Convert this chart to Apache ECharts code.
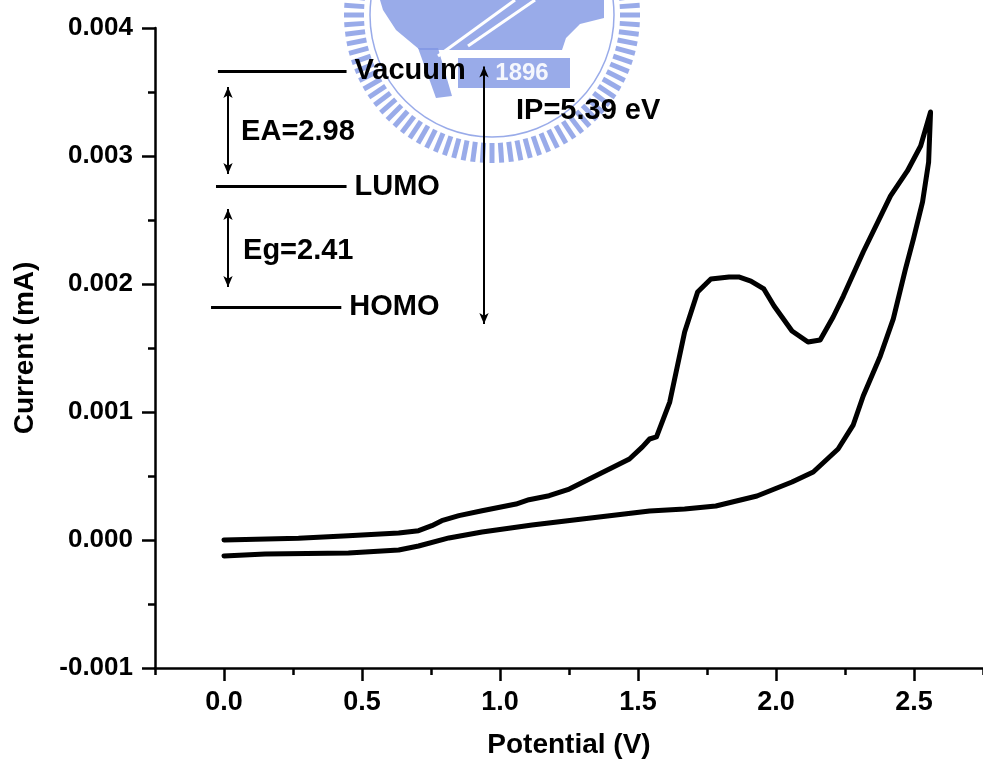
<!DOCTYPE html>
<html>
<head>
<meta charset="utf-8">
<title>Cyclic voltammogram</title>
<script src="https://cdn.jsdelivr.net/npm/echarts@6/dist/echarts.min.js"></script>
<style>
  html, body { margin: 0; padding: 0; background: #fff; }
  #chart { width: 983px; height: 770px; }
</style>
</head>
<body>
<div id="chart"></div>
<script>
// Anodic (forward) sweep: potential in V, current in mA
var forwardPotential = [0.000, 0.270, 0.450, 0.633, 0.705, 0.753, 0.789, 0.851, 0.935, 1.058, 1.105, 1.178, 1.251, 1.360, 1.469, 1.516, 1.542,
  1.567, 1.615, 1.669, 1.716, 1.764, 1.830, 1.865, 1.909, 1.956, 1.993, 2.058, 2.116, 2.160, 2.207, 2.244, 2.316, 2.415, 2.476, 2.524, 2.560];
var forwardCurrent = [0.000000, 0.000013, 0.000034, 0.000055, 0.000073, 0.000112, 0.000151, 0.000190, 0.000229, 0.000281, 0.000315, 0.000346, 0.000398, 0.000516, 0.000633, 0.000727, 0.000789,
  0.000805, 0.001078, 0.001625, 0.001938, 0.002039, 0.002055, 0.002055, 0.002023, 0.001961, 0.001828, 0.001633, 0.001547, 0.001562, 0.001742, 0.001906, 0.002250, 0.002688, 0.002883, 0.003078, 0.003344];

// Cathodic (return) sweep
var reversePotential = [2.560, 2.553, 2.531, 2.498, 2.469, 2.425, 2.378, 2.316, 2.280, 2.225, 2.135, 2.058, 1.931, 1.782, 1.669, 1.542, 1.298, 1.116, 0.935, 0.815, 0.705, 0.633, 0.451, 0.149, 0.000];
var reverseCurrent = [0.003344, 0.002953, 0.002641, 0.002352, 0.002117, 0.001727, 0.001438, 0.001125, 0.000900, 0.000711, 0.000531, 0.000453, 0.000344, 0.000266, 0.000242, 0.000227, 0.000164, 0.000117, 0.000063, 0.000016, -0.000047, -0.000078, -0.000102, -0.000109, -0.000125];

// Axis ticks
var xMajorTicks = [0, 0.5, 1.0, 1.5, 2.0, 2.5];
var xMinorTicks = [-0.25, 0.25, 0.75, 1.25, 1.75, 2.25, 2.75];

// Energy-level sketch drawn inside the plot (data units)
var levelNames = ['Vacuum', 'LUMO', 'HOMO'];
var levelCurrent = [0.003664, 0.002760, 0.001820];
var levelStart = [-0.022, -0.029, -0.047];
var levelEnd = [0.444, 0.444, 0.425];

var gapLabels = ['EA=2.98', 'Eg=2.41', 'IP=5.39 eV'];
var gapArrowX = [0.0145, 0.0145, 0.942];
var gapArrowTop = [0.003540, 0.002586, 0.003700];
var gapArrowBottom = [0.002860, 0.001977, 0.001688];
var gapLabelX = [0.062, 0.069, 1.058];
var gapLabelY = [0.003188, 0.002258, 0.003352];

var FONT = '"Liberation Sans", Arial, sans-serif';

function pairs(xs, ys) {
  return xs.map(function (x, i) { return [x, ys[i]]; });
}

var cvData = pairs(forwardPotential, forwardCurrent).concat(pairs(reversePotential, reverseCurrent));

var markLines = [];
levelNames.forEach(function (n, i) {
  markLines.push([
    { coord: [levelStart[i], levelCurrent[i]], symbol: 'none', lineStyle: { width: 3 } },
    { coord: [levelEnd[i], levelCurrent[i]], symbol: 'none' }
  ]);
});
gapLabels.forEach(function (n, i) {
  markLines.push([
    { coord: [gapArrowX[i], gapArrowTop[i]], symbol: 'arrow', symbolSize: [7, 11], lineStyle: { width: 2 } },
    { coord: [gapArrowX[i], gapArrowBottom[i]], symbol: 'arrow', symbolSize: [7, 11] }
  ]);
});

// text annotations: [x, y, gap in px after the anchor], plus the string
var textItems = [];
levelNames.forEach(function (n, i) {
  textItems.push({ value: [levelEnd[i], levelCurrent[i], 8], name: n });
});
gapLabels.forEach(function (n, i) {
  textItems.push({ value: [gapLabelX[i], gapLabelY[i], 0], name: n });
});

// Faint institutional seal behind the plot
var sealColor = 'rgba(128,150,228,0.8)';
var cx = 492, cy = 15;
var seal = [];
for (var k = 0; k < 96; k++) {
  var a = k * Math.PI * 2 / 96;
  seal.push({
    type: 'rect',
    x: cx + Math.cos(a) * 138,
    y: cy + Math.sin(a) * 138,
    rotation: -a - Math.PI / 2,
    shape: { x: -2.5, y: -10, width: 5, height: 20 },
    style: { fill: sealColor },
    silent: true
  });
}
seal.push({
  type: 'circle', shape: { cx: cx, cy: cy, r: 122 },
  style: { fill: 'none', stroke: sealColor, lineWidth: 1.5 }, silent: true
});
seal.push({
  type: 'polygon',
  shape: { points: [[380, 0], [604, 0], [604, 18], [580, 24], [566, 38], [562, 50], [420, 50], [396, 30], [383, 10]] },
  style: { fill: sealColor }, silent: true
});
seal.push({
  type: 'polygon',
  shape: { points: [[418, 48], [438, 48], [452, 96], [436, 98]] },
  style: { fill: sealColor }, silent: true
});
seal.push({
  type: 'line', shape: { x1: 515, y1: 0, x2: 438, y2: 56 },
  style: { stroke: '#fff', lineWidth: 3 }, silent: true
});
seal.push({
  type: 'line', shape: { x1: 535, y1: 0, x2: 468, y2: 46 },
  style: { stroke: '#fff', lineWidth: 3 }, silent: true
});
seal.push({
  type: 'rect', shape: { x: 458, y: 58, width: 112, height: 30 },
  style: { fill: sealColor }, silent: true
});
seal.push({
  type: 'text', x: 522, y: 73,
  style: { text: '1896', fill: 'rgba(255,255,255,0.9)', font: 'bold 24px ' + FONT, align: 'center', verticalAlign: 'middle' },
  silent: true
});

var chart = echarts.init(document.getElementById('chart'), null, { renderer: 'canvas' });

chart.setOption({
  backgroundColor: '#ffffff',
  animation: false,
  graphic: [{ type: 'group', z: -10, children: seal }],
  grid: { left: 155, right: 0, top: 28, bottom: 102, containLabel: false },
  xAxis: [{
    type: 'value', min: -0.25, max: 2.75,
    axisLine: { show: true, onZero: false, lineStyle: { color: '#000', width: 2.5 } },
    axisTick: { show: true, inside: false, length: 13, customValues: xMajorTicks, lineStyle: { color: '#000', width: 2.5 } },
    axisLabel: {
      customValues: xMajorTicks, margin: 21, color: '#000',
      fontFamily: FONT, fontWeight: 'bold', fontSize: 27,
      formatter: function (v) { return v.toFixed(1); }
    },
    splitLine: { show: false },
    name: 'Potential (V)', nameLocation: 'middle', nameGap: 63,
    nameTextStyle: { color: '#000', fontFamily: FONT, fontWeight: 'bold', fontSize: 28 }
  }, {
    type: 'value', min: -0.25, max: 2.75, position: 'bottom',
    axisLine: { show: false, onZero: false },
    axisTick: { show: true, inside: false, length: 7, customValues: xMinorTicks, lineStyle: { color: '#000', width: 2.5 } },
    axisLabel: { show: false },
    splitLine: { show: false }
  }],
  yAxis: {
    type: 'value', min: -0.001, max: 0.004, interval: 0.001,
    axisLine: { show: true, onZero: false, lineStyle: { color: '#000', width: 2.5 } },
    axisTick: { show: true, inside: false, length: 13, lineStyle: { color: '#000', width: 2.5 } },
    minorTick: { show: true, splitNumber: 2, length: 7, lineStyle: { color: '#000', width: 2.5 } },
    axisLabel: {
      margin: 22, color: '#000', fontFamily: FONT, fontWeight: 'bold', fontSize: 26,
      formatter: function (v) { return v.toFixed(3); }
    },
    splitLine: { show: false },
    minorSplitLine: { show: false },
    name: 'Current (mA)', nameLocation: 'middle', nameGap: 116, nameRotate: 90,
    nameTextStyle: { color: '#000', fontFamily: FONT, fontWeight: 'bold', fontSize: 28 }
  },
  series: [{
    type: 'line',
    name: 'CV',
    data: cvData,
    showSymbol: false,
    symbol: 'none',
    smooth: false,
    lineStyle: { color: '#000', width: 5, join: 'round', cap: 'round' },
    z: 5,
    markLine: {
      silent: true,
      animation: false,
      label: { show: false },
      lineStyle: { color: '#000', type: 'solid', width: 2 },
      data: markLines
    }
  }, {
    type: 'custom',
    name: 'labels',
    data: textItems,
    silent: true,
    z: 6,
    clip: false,
    renderItem: function (params, api) {
      var p = api.coord([api.value(0), api.value(1)]);
      return {
        type: 'text',
        x: p[0] + api.value(2),
        y: p[1],
        style: {
          text: textItems[params.dataIndex].name,
          fill: '#000',
          font: 'bold 29px ' + FONT,
          align: 'left',
          verticalAlign: 'middle'
        }
      };
    }
  }]
});
</script>
</body>
</html>
